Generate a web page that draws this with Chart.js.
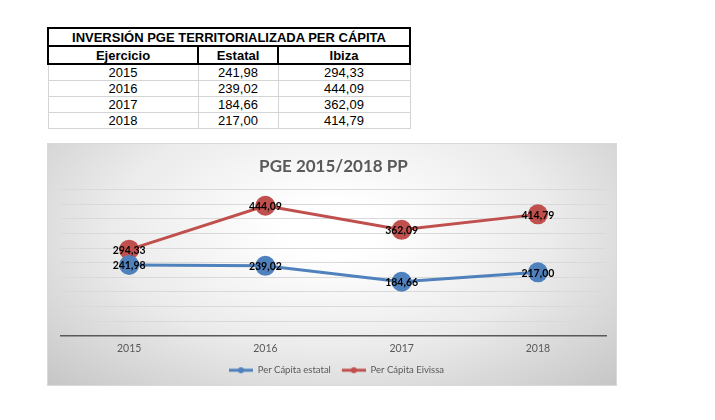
<!DOCTYPE html>
<html>
<head>
<meta charset="utf-8">
<script src="https://cdn.jsdelivr.net/npm/chart.js@4.4.1/dist/chart.umd.min.js"></script>
<style>
  html, body { margin: 0; padding: 0; background: #fff; width: 715px; height: 420px; overflow: hidden; }
  #tabla { position: absolute; left: 47px; top: 27px; border-collapse: collapse; font-family: "Liberation Sans", Arial, sans-serif; font-size: 13px; color: #000; }
  #tabla td { padding: 0; text-align: center; line-height: 15px; }
  #tabla tr.cab td { font-weight: bold; border: 2px solid #000; height: 16px; }
  #tabla tr.dato td { border: 1px solid #d4d4d4; height: 15px; }
  #marco { position: absolute; left: 47px; top: 143px; width: 570px; height: 243px; box-sizing: border-box;
           border: 1px solid #d9d9d9;
           background: radial-gradient(ellipse at 50% 35%, #ffffff 12%, #ebebeb 55%, #c6c6c6 100%); }
  #lienzo { position: absolute; left: 0; top: 0; width: 568px; height: 241px; }
</style>
</head>
<body>
<table id="tabla"></table>
<div id="marco"><div id="lienzo"><canvas id="grafico"></canvas></div></div>
<script>
// Datos de la tabla y del gráfico
const ejercicios = ['2015', '2016', '2017', '2018'];
const perCapitaEstatal = [241.98, 239.02, 184.66, 217.00];
const perCapitaEivissa = [294.33, 444.09, 362.09, 414.79];
const ejeY = { min: 0, max: 500, paso: 50 };

// Formato con coma decimal
const fmt = v => v.toFixed(2).replace('.', ',');

// Construir la tabla
const tabla = document.getElementById('tabla');
tabla.innerHTML =
    '<colgroup><col style="width:150px"><col style="width:80px"><col style="width:132px"></colgroup>' +
    '<tr class="cab"><td colspan="3">INVERSIÓN PGE TERRITORIALIZADA PER CÁPITA</td></tr>' +
    '<tr class="cab"><td>Ejercicio</td><td>Estatal</td><td>Ibiza</td></tr>' +
    ejercicios.map((e, i) =>
        `<tr class="dato"><td>${e}</td><td>${fmt(perCapitaEstatal[i])}</td><td>${fmt(perCapitaEivissa[i])}</td></tr>`
    ).join('');

// Marcador de leyenda: línea con punto (con hueco a la izquierda)
function marcador(color) {
    const c = document.createElement('canvas');
    c.width = 30; c.height = 8;
    const g = c.getContext('2d');
    g.strokeStyle = color; g.lineWidth = 3;
    g.beginPath(); g.moveTo(6, 4); g.lineTo(30, 4); g.stroke();
    g.fillStyle = color;
    g.beginPath(); g.arc(18, 4, 3, 0, Math.PI * 2); g.fill();
    return c;
}

// Etiquetas de datos centradas en cada punto
const etiquetas = {
    id: 'etiquetas',
    afterDatasetsDraw(chart) {
        const ctx = chart.ctx;
        ctx.save();
        ctx.font = 'bold 10.5px Lato';
        ctx.fillStyle = '#000';
        ctx.textAlign = 'center';
        ctx.textBaseline = 'middle';
        chart.data.datasets.forEach((ds, i) => {
            chart.getDatasetMeta(i).data.forEach((pt, j) => {
                ctx.fillText(fmt(ds.data[j]), pt.x, pt.y + 1);
            });
        });
        ctx.restore();
    }
};

const azul = '#4f81bd';
const rojo = '#c0504d';
const marcadores = [marcador(azul), marcador(rojo)];

new Chart(document.getElementById('grafico'), {
    type: 'line',
    data: {
        labels: ejercicios,
        datasets: [{
            label: 'Per Cápita estatal',
            data: perCapitaEstatal,
            borderColor: azul,
            backgroundColor: azul,
            borderWidth: 3,
            pointRadius: 10,
            pointHoverRadius: 10,
            pointBorderWidth: 0
        }, {
            label: 'Per Cápita Eivissa',
            data: perCapitaEivissa,
            borderColor: rojo,
            backgroundColor: rojo,
            borderWidth: 3,
            pointRadius: 10,
            pointHoverRadius: 10,
            pointBorderWidth: 0
        }]
    },
    options: {
        responsive: true,
        maintainAspectRatio: false,
        animation: false,
        layout: { padding: { left: 13, right: 10, top: 0, bottom: 0 } },
        scales: {
            x: {
                offset: true,
                grid: { display: false, drawTicks: false },
                border: { display: true, color: '#595959', width: 1.5 },
                ticks: { color: '#595959', font: { family: 'Lato', size: 10.5 }, padding: 6 }
            },
            y: {
                min: ejeY.min,
                max: ejeY.max,
                ticks: { display: false, stepSize: ejeY.paso },
                grid: { color: '#d9d9d9', lineWidth: 1, drawTicks: false },
                border: { display: false }
            }
        },
        plugins: {
            title: {
                display: true,
                text: 'PGE 2015/2018 PP',
                color: '#595959',
                font: { family: 'Lato', size: 17, weight: 'bold' },
                padding: { top: 12, bottom: 13 }
            },
            legend: {
                position: 'bottom',
                labels: {
                    usePointStyle: true,
                    pointStyleWidth: 30,
                    color: '#595959',
                    font: { family: 'Lato', size: 9.5 },
                    padding: 5,
                    generateLabels(chart) {
                        return chart.data.datasets.map((ds, i) => ({
                            text: ds.label,
                            pointStyle: marcadores[i],
                            fillStyle: ds.borderColor,
                            strokeStyle: ds.borderColor,
                            lineWidth: 0,
                            fontColor: '#595959',
                            datasetIndex: i
                        }));
                    }
                }
            },
            tooltip: { enabled: false }
        }
    },
    plugins: [etiquetas]
});
</script>
</body>
</html>
